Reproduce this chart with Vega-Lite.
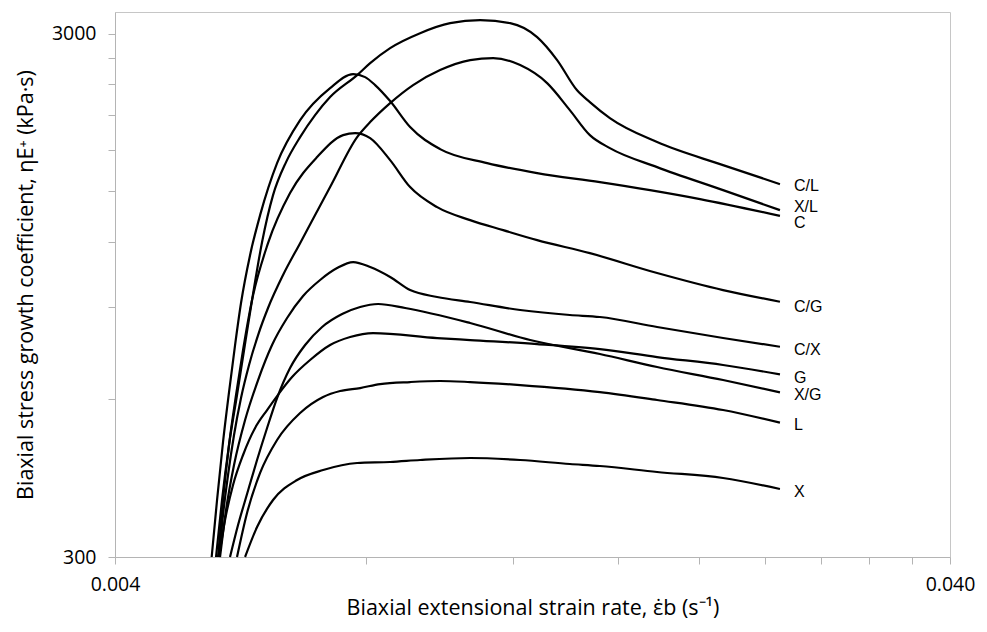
{
  "$schema": "https://vega.github.io/schema/vega-lite/v6.json",
  "autosize": {"type": "none"},
  "padding": {"left": 115, "top": 12, "right": 37, "bottom": 75},
  "width": 835,
  "height": 545,
  "background": "white",
  "config": {
    "view": {"stroke": "#c6c6c6", "strokeWidth": 1},
    "axis": {
      "grid": false,
      "domainColor": "#b4b4b4",
      "tickColor": "#b4b4b4",
      "tickSize": 7,
      "labelFont": "Open Sans",
      "labelFontSize": 19.5,
      "labelColor": "#000000",
      "titleFont": "Open Sans",
      "titleFontSize": 21.5,
      "titleFontWeight": "normal",
      "titleColor": "#000000"
    }
  },
  "datasets": {
    "curves": [
      {"s": "C/L", "x": 0.005285, "y": 300},
      {"s": "C/L", "x": 0.005373, "y": 385.5},
      {"s": "C/L", "x": 0.005478, "y": 491.1},
      {"s": "C/L", "x": 0.005600, "y": 611.8},
      {"s": "C/L", "x": 0.005710, "y": 745.8},
      {"s": "C/L", "x": 0.005837, "y": 929.3},
      {"s": "C/L", "x": 0.006000, "y": 1198.7},
      {"s": "C/L", "x": 0.006185, "y": 1474.5},
      {"s": "C/L", "x": 0.006411, "y": 1704.9},
      {"s": "C/L", "x": 0.006664, "y": 1903},
      {"s": "C/L", "x": 0.006945, "y": 2096.5},
      {"s": "C/L", "x": 0.007239, "y": 2269.5},
      {"s": "C/L", "x": 0.007799, "y": 2500.2},
      {"s": "C/L", "x": 0.008084, "y": 2635.7},
      {"s": "C/L", "x": 0.008542, "y": 2815.5},
      {"s": "C/L", "x": 0.009278, "y": 3006.6},
      {"s": "C/L", "x": 0.010079, "y": 3141.8},
      {"s": "C/L", "x": 0.010949, "y": 3183.3},
      {"s": "C/L", "x": 0.011894, "y": 3141.8},
      {"s": "C/L", "x": 0.012812, "y": 2954.2},
      {"s": "C/L", "x": 0.013538, "y": 2670.7},
      {"s": "C/L", "x": 0.014295, "y": 2340.6},
      {"s": "C/L", "x": 0.014817, "y": 2220.1},
      {"s": "C/L", "x": 0.015658, "y": 2069},
      {"s": "C/L", "x": 0.017835, "y": 1861.6},
      {"s": "C/L", "x": 0.021393, "y": 1682.6},
      {"s": "C/L", "x": 0.025027, "y": 1547.6},

      {"s": "X/L", "x": 0.005329, "y": 300},
      {"s": "X/L", "x": 0.005388, "y": 360.9},
      {"s": "X/L", "x": 0.005463, "y": 430.3},
      {"s": "X/L", "x": 0.005554, "y": 513.1},
      {"s": "X/L", "x": 0.005662, "y": 603.8},
      {"s": "X/L", "x": 0.005789, "y": 698.2},
      {"s": "X/L", "x": 0.005935, "y": 796.6},
      {"s": "X/L", "x": 0.006100, "y": 897.2},
      {"s": "X/L", "x": 0.006358, "y": 1037.4},
      {"s": "X/L", "x": 0.006664, "y": 1193.4},
      {"s": "X/L", "x": 0.007239, "y": 1527.3},
      {"s": "X/L", "x": 0.007799, "y": 1903},
      {"s": "X/L", "x": 0.008084, "y": 2032.9},
      {"s": "X/L", "x": 0.008542, "y": 2210.3},
      {"s": "X/L", "x": 0.009101, "y": 2392.6},
      {"s": "X/L", "x": 0.009804, "y": 2555.8},
      {"s": "X/L", "x": 0.010651, "y": 2670.7},
      {"s": "X/L", "x": 0.011349, "y": 2694.3},
      {"s": "X/L", "x": 0.012226, "y": 2612.6},
      {"s": "X/L", "x": 0.013170, "y": 2413.7},
      {"s": "X/L", "x": 0.014021, "y": 2143.2},
      {"s": "X/L", "x": 0.014817, "y": 1919.8},
      {"s": "X/L", "x": 0.015658, "y": 1813.2},
      {"s": "X/L", "x": 0.017835, "y": 1667.8},
      {"s": "X/L", "x": 0.021393, "y": 1507.3},
      {"s": "X/L", "x": 0.025027, "y": 1380},

      {"s": "C", "x": 0.005222, "y": 300},
      {"s": "C", "x": 0.005300, "y": 385.5},
      {"s": "C", "x": 0.005388, "y": 497.6},
      {"s": "C", "x": 0.005478, "y": 619.9},
      {"s": "C", "x": 0.005570, "y": 762.4},
      {"s": "C", "x": 0.005662, "y": 917.2},
      {"s": "C", "x": 0.005805, "y": 1132.1},
      {"s": "C", "x": 0.005968, "y": 1350.0},
      {"s": "C", "x": 0.006254, "y": 1697.4},
      {"s": "C", "x": 0.006664, "y": 2050.9},
      {"s": "C", "x": 0.007239, "y": 2361.3},
      {"s": "C", "x": 0.007714, "y": 2511},
      {"s": "C", "x": 0.007973, "y": 2478},
      {"s": "C", "x": 0.008196, "y": 2392.6},
      {"s": "C", "x": 0.008542, "y": 2230},
      {"s": "C", "x": 0.009026, "y": 1988.7},
      {"s": "C", "x": 0.009804, "y": 1805.2},
      {"s": "C", "x": 0.011163, "y": 1697.4},
      {"s": "C", "x": 0.012812, "y": 1624.4},
      {"s": "C", "x": 0.015232, "y": 1561.3},
      {"s": "C", "x": 0.017490, "y": 1507.3},
      {"s": "C", "x": 0.020077, "y": 1449},
      {"s": "C", "x": 0.025027, "y": 1345.8},

      {"s": "C/G", "x": 0.005314, "y": 300},
      {"s": "C/G", "x": 0.005388, "y": 385.5},
      {"s": "C/G", "x": 0.005478, "y": 491.1},
      {"s": "C/G", "x": 0.005585, "y": 611.8},
      {"s": "C/G", "x": 0.005694, "y": 745.8},
      {"s": "C/G", "x": 0.005837, "y": 929.3},
      {"s": "C/G", "x": 0.006100, "y": 1193.4},
      {"s": "C/G", "x": 0.006482, "y": 1487.6},
      {"s": "C/G", "x": 0.006984, "y": 1742.9},
      {"s": "C/G", "x": 0.007503, "y": 1919.8},
      {"s": "C/G", "x": 0.007756, "y": 1936.8},
      {"s": "C/G", "x": 0.008084, "y": 1894.6},
      {"s": "C/G", "x": 0.008542, "y": 1720},
      {"s": "C/G", "x": 0.009026, "y": 1527.3},
      {"s": "C/G", "x": 0.009724, "y": 1398.3},
      {"s": "C/G", "x": 0.010651, "y": 1320.6},
      {"s": "C/G", "x": 0.011666, "y": 1263.7},
      {"s": "C/G", "x": 0.012812, "y": 1209.3},
      {"s": "C/G", "x": 0.014817, "y": 1142.0},
      {"s": "C/G", "x": 0.017835, "y": 1046.6},
      {"s": "C/G", "x": 0.021393, "y": 970.8},
      {"s": "C/G", "x": 0.025027, "y": 922.4},

      {"s": "C/X", "x": 0.005344, "y": 300},
      {"s": "C/X", "x": 0.005433, "y": 368.9},
      {"s": "C/X", "x": 0.005554, "y": 449.7},
      {"s": "C/X", "x": 0.005726, "y": 548.1},
      {"s": "C/X", "x": 0.005935, "y": 653.5},
      {"s": "C/X", "x": 0.006168, "y": 762.4},
      {"s": "C/X", "x": 0.006429, "y": 858.5},
      {"s": "C/X", "x": 0.006719, "y": 945.9},
      {"s": "C/X", "x": 0.007042, "y": 1014.9},
      {"s": "C/X", "x": 0.007380, "y": 1069.6},
      {"s": "C/X", "x": 0.007714, "y": 1098.2},
      {"s": "C/X", "x": 0.008084, "y": 1074.3},
      {"s": "C/X", "x": 0.008542, "y": 1028.3},
      {"s": "C/X", "x": 0.009026, "y": 970.8},
      {"s": "C/X", "x": 0.009724, "y": 941.7},
      {"s": "C/X", "x": 0.010651, "y": 921.2},
      {"s": "C/X", "x": 0.012226, "y": 889.3},
      {"s": "C/X", "x": 0.014021, "y": 870.0},
      {"s": "C/X", "x": 0.015232, "y": 862.4},
      {"s": "C/X", "x": 0.017835, "y": 825.3},
      {"s": "C/X", "x": 0.021393, "y": 786.2},
      {"s": "C/X", "x": 0.025027, "y": 756.7},

      {"s": "G", "x": 0.005329, "y": 300},
      {"s": "G", "x": 0.005418, "y": 353.0},
      {"s": "G", "x": 0.005539, "y": 411.8},
      {"s": "G", "x": 0.005694, "y": 469.9},
      {"s": "G", "x": 0.005886, "y": 529.2},
      {"s": "G", "x": 0.006084, "y": 572.7},
      {"s": "G", "x": 0.006254, "y": 609.1},
      {"s": "G", "x": 0.006518, "y": 662.2},
      {"s": "G", "x": 0.006850, "y": 713.7},
      {"s": "G", "x": 0.007239, "y": 762.4},
      {"s": "G", "x": 0.007650, "y": 789.7},
      {"s": "G", "x": 0.008151, "y": 803.7},
      {"s": "G", "x": 0.009724, "y": 786.2},
      {"s": "G", "x": 0.010651, "y": 779.3},
      {"s": "G", "x": 0.012812, "y": 765.7},
      {"s": "G", "x": 0.015232, "y": 749.0},
      {"s": "G", "x": 0.017835, "y": 723.1},
      {"s": "G", "x": 0.021393, "y": 698.2},
      {"s": "G", "x": 0.025027, "y": 670.1},

      {"s": "X/G", "x": 0.005493, "y": 300},
      {"s": "X/G", "x": 0.005616, "y": 345.3},
      {"s": "X/G", "x": 0.005757, "y": 395.8},
      {"s": "X/G", "x": 0.005918, "y": 459.7},
      {"s": "X/G", "x": 0.006084, "y": 529.2},
      {"s": "X/G", "x": 0.006254, "y": 603.8},
      {"s": "X/G", "x": 0.006482, "y": 689.0},
      {"s": "X/G", "x": 0.006757, "y": 762.4},
      {"s": "X/G", "x": 0.007081, "y": 825.3},
      {"s": "X/G", "x": 0.007483, "y": 873.8},
      {"s": "X/G", "x": 0.007864, "y": 901.2},
      {"s": "X/G", "x": 0.008264, "y": 913.1},
      {"s": "X/G", "x": 0.008903, "y": 897.2},
      {"s": "X/G", "x": 0.010651, "y": 839.9},
      {"s": "X/G", "x": 0.012567, "y": 779.3},
      {"s": "X/G", "x": 0.015232, "y": 732.7},
      {"s": "X/G", "x": 0.017835, "y": 692.0},
      {"s": "X/G", "x": 0.021393, "y": 653.5},
      {"s": "X/G", "x": 0.025027, "y": 619.1},

      {"s": "L", "x": 0.005600, "y": 300},
      {"s": "L", "x": 0.005757, "y": 364.1},
      {"s": "L", "x": 0.005968, "y": 434.2},
      {"s": "L", "x": 0.006254, "y": 502.0},
      {"s": "L", "x": 0.006664, "y": 565.2},
      {"s": "L", "x": 0.007101, "y": 606.5},
      {"s": "L", "x": 0.007442, "y": 622.7},
      {"s": "L", "x": 0.007864, "y": 630.9},
      {"s": "L", "x": 0.008310, "y": 642.1},
      {"s": "L", "x": 0.009026, "y": 647.8},
      {"s": "L", "x": 0.009804, "y": 650.7},
      {"s": "L", "x": 0.010651, "y": 647.8},
      {"s": "L", "x": 0.012226, "y": 639.3},
      {"s": "L", "x": 0.015232, "y": 619.9},
      {"s": "L", "x": 0.017835, "y": 598.6},
      {"s": "L", "x": 0.021393, "y": 572.7},
      {"s": "L", "x": 0.025027, "y": 541.7},

      {"s": "X", "x": 0.005726, "y": 300},
      {"s": "X", "x": 0.005918, "y": 342.3},
      {"s": "X", "x": 0.006185, "y": 385.5},
      {"s": "X", "x": 0.006609, "y": 421.0},
      {"s": "X", "x": 0.007101, "y": 439.9},
      {"s": "X", "x": 0.007799, "y": 453.7},
      {"s": "X", "x": 0.008542, "y": 455.7},
      {"s": "X", "x": 0.009278, "y": 459.7},
      {"s": "X", "x": 0.010651, "y": 463.8},
      {"s": "X", "x": 0.012226, "y": 459.7},
      {"s": "X", "x": 0.014021, "y": 451.7},
      {"s": "X", "x": 0.015232, "y": 447.7},
      {"s": "X", "x": 0.017835, "y": 436.1},
      {"s": "X", "x": 0.021393, "y": 424.7},
      {"s": "X", "x": 0.025027, "y": 404.6}
    ],
    "labels": [
      {"s": "C/L", "x": 0.025027, "y": 1536},
      {"s": "X/L", "x": 0.025027, "y": 1400},
      {"s": "C", "x": 0.025027, "y": 1304},
      {"s": "C/G", "x": 0.025027, "y": 902},
      {"s": "C/X", "x": 0.025027, "y": 746},
      {"s": "G", "x": 0.025027, "y": 659},
      {"s": "X/G", "x": 0.025027, "y": 612},
      {"s": "L", "x": 0.025027, "y": 536},
      {"s": "X", "x": 0.025027, "y": 400}
    ]
  },
  "encoding": {
    "x": {
      "field": "x",
      "type": "quantitative",
      "scale": {"type": "log", "domain": [0.004, 0.04], "nice": false},
      "axis": {
        "values": [0.004, 0.008, 0.012, 0.016, 0.02, 0.024, 0.028, 0.032, 0.036, 0.04],
        "format": ".3f",
        "labelExpr": "datum.value < 0.0041 || datum.value > 0.039 ? datum.label : ''",
        "labelPadding": 11,
        "labelFlush": false,
        "labelOverlap": false,
        "title": "Biaxial extensional strain rate, ε̇b (s⁻¹)",
        "titlePadding": 4
      }
    },
    "y": {
      "field": "y",
      "type": "quantitative",
      "scale": {"type": "log", "domain": [300, 3300], "nice": false},
      "axis": {
        "values": [300, 600, 900, 1200, 1500, 1800, 2100, 2400, 2700, 3000],
        "format": "d",
        "labelExpr": "datum.value == 300 || datum.value == 3000 ? datum.label : ''",
        "labelPadding": 12,
        "labelFlush": false,
        "labelOverlap": false,
        "title": "Biaxial stress growth coefficient, ηE⁺  (kPa·s)",
        "titlePadding": 14
      }
    }
  },
  "layer": [
    {
      "data": {"name": "curves"},
      "mark": {"type": "line", "color": "#000000", "strokeWidth": 2.2, "interpolate": "monotone"},
      "encoding": {"detail": {"field": "s", "type": "nominal"}}
    },
    {
      "data": {"name": "labels"},
      "mark": {
        "type": "text",
        "align": "left",
        "baseline": "middle",
        "dx": 14,
        "font": "Liberation Sans",
        "fontSize": 16,
        "color": "#000000"
      },
      "encoding": {"text": {"field": "s", "type": "nominal"}}
    }
  ]
}
